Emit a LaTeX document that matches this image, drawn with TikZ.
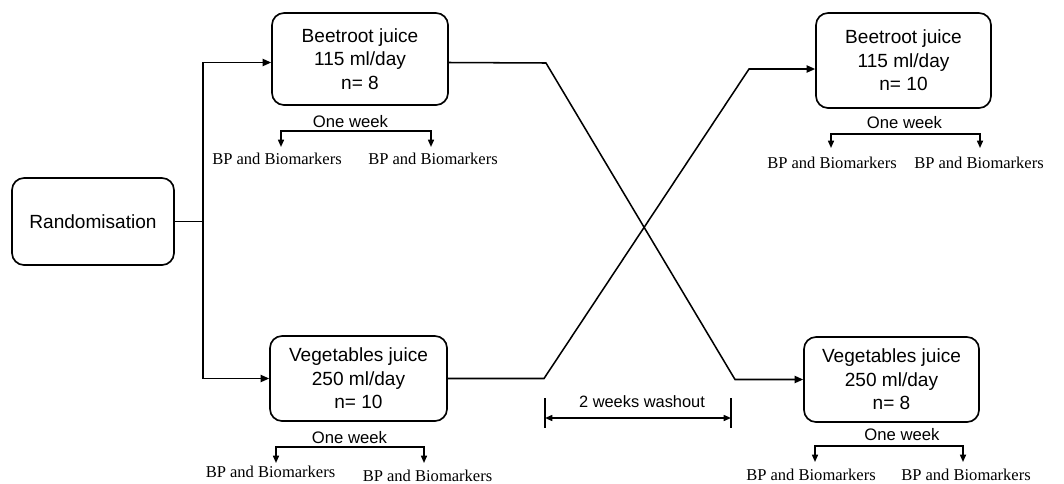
\documentclass[tikz,border=0pt]{standalone}
\usepackage{fontspec}
\setmainfont{Liberation Sans}
\newfontfamily\timesf{Liberation Serif}
\usetikzlibrary{arrows.meta,calc}
\begin{document}
\begin{tikzpicture}[x=0.75pt,y=-0.75pt,
  box/.style={draw, line width=1.25pt, rounded corners=9pt, align=center, inner sep=0pt,
    font=\fontsize{14.3}{17.6}\selectfont},
  conn/.style={line width=1.15pt},
  arr/.style={-{Triangle[length=6.5pt,width=5.5pt]}},
  sarr/.style={{Triangle[length=5.5pt,width=4.5pt]}-{Triangle[length=5.5pt,width=4.5pt]}},
  owk/.style={anchor=base, inner sep=0pt, font=\fontsize{12.5}{15}\selectfont},
  bp/.style={anchor=base, inner sep=0pt, font=\timesf\fontsize{12.4}{15}\selectfont},
  wash/.style={anchor=base, inner sep=0pt, font=\fontsize{12.3}{15}\selectfont}]
\fill[white] (0,0) rectangle (1064,483);
\useasboundingbox (0,0) rectangle (1064,483);

% boxes
\node[box, minimum width=121.5pt, minimum height=65.25pt] (rand) at (93,221.5) {Randomisation};
\node[box, minimum width=132pt, minimum height=69pt] (bj1) at (360,59) {Beetroot juice\\115 ml/day\\n= 8};
\node[box, minimum width=132.75pt, minimum height=63.75pt] (vj1) at (358.5,378.5) {Vegetables juice\\250 ml/day\\n= 10};
\node[box, minimum width=131.25pt, minimum height=71.25pt] (bj2) at (903.5,60.5) {Beetroot juice\\115 ml/day\\n= 10};
\node[box, minimum width=131.25pt, minimum height=63.75pt] (vj2) at (891.5,379.5) {Vegetables juice\\250 ml/day\\n= 8};

% randomisation split
\coordinate (sp) at (203,221.5);
\draw[conn] (rand.east) -- (sp);
\draw[conn,arr] (sp) |- ($(bj1.west)+(0,3.5)$);
\draw[conn,arr] (sp) |- (vj1.west);

% crossover
\coordinate (c1) at (546,63);
\coordinate (c2) at (735,379.5);
\draw[conn,arr] ($(bj1.east)+(0,3.5)$) -- (c1) -- (c2) -- (vj2.west);
\coordinate (c3) at (544,378.5);
\coordinate (c4) at (749,69);
\draw[conn,arr] (vj1.east) -- (c3) -- (c4) -- ($(bj2.west)+(0,8.5)$);

% washout
\node[wash] (wo) at (642,407) {2 weeks washout};
\coordinate (w1) at (545,418);
\coordinate (w2) at (731,418);
\draw[conn,sarr] (w1) -- (w2);
\draw[conn] ($(w1)+(0,-20)$) -- ($(w1)+(0,10)$);
\draw[conn] ($(w2)+(0,-20)$) -- ($(w2)+(0,10)$);

% group top-left
\node[owk] (ow1) at (350.5,127) {One week};
\node[bp] (bp1a) at (277,164) {BP and Biomarkers};
\node[bp] (bp1b) at (433,164) {BP and Biomarkers};
\coordinate (t1a) at (281,147);
\coordinate (t1b) at (431,147);
\draw[conn,sarr] (t1a) -- ++(0,-16) -| (t1b);

% group bottom-left
\node[owk] (ow2) at (349.5,443) {One week};
\node[bp] (bp2a) at (270.5,477) {BP and Biomarkers};
\node[bp] (bp2b) at (427.5,481) {BP and Biomarkers};
\coordinate (t2a) at (276,463);
\coordinate (t2b) at (424,463);
\draw[conn,sarr] (t2a) -- ++(0,-16) -| (t2b);

% group top-right
\node[owk] (ow3) at (904.5,128) {One week};
\node[bp] (bp3a) at (832,168) {BP and Biomarkers};
\node[bp] (bp3b) at (979,168) {BP and Biomarkers};
\coordinate (t3a) at (831,148);
\coordinate (t3b) at (980,148);
\draw[conn,sarr] (t3a) -- ++(0,-14) -| (t3b);

% group bottom-right
\node[owk] (ow4) at (902,440) {One week};
\node[bp] (bp4a) at (811,480) {BP and Biomarkers};
\node[bp] (bp4b) at (966,480) {BP and Biomarkers};
\coordinate (t4a) at (815,462);
\coordinate (t4b) at (963,462);
\draw[conn,sarr] (t4a) -- ++(0,-16) -| (t4b);
\end{tikzpicture}
\end{document}
